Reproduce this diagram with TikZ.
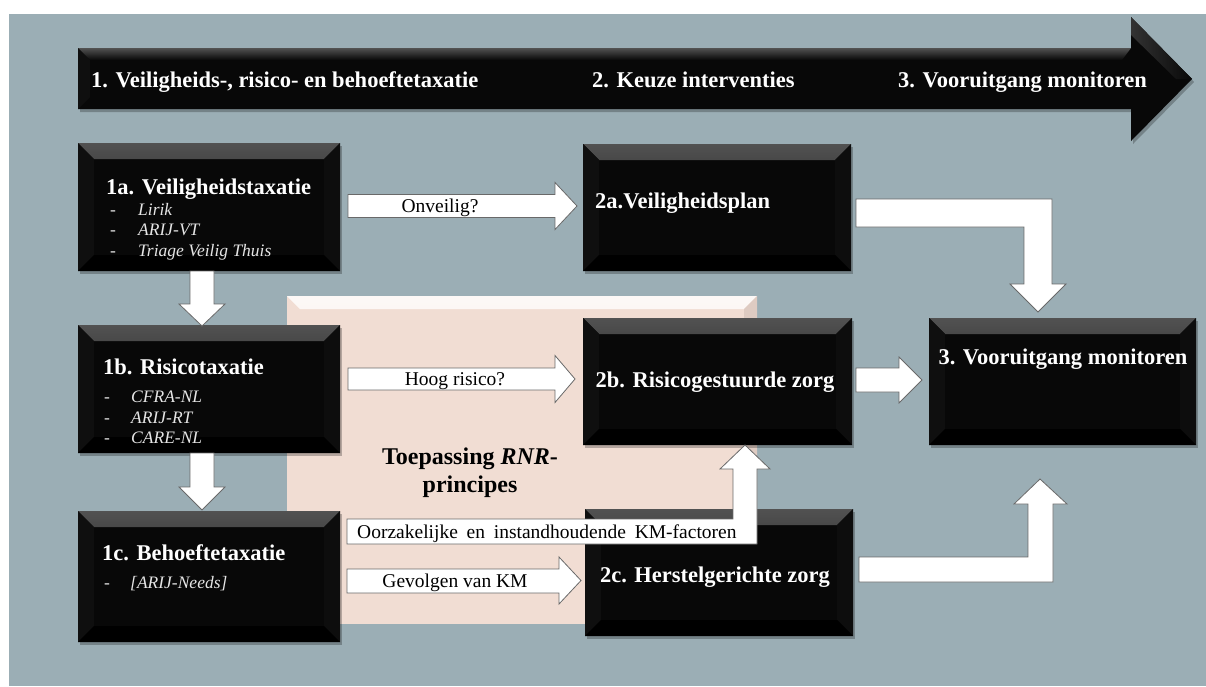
\documentclass[tikz,border=0pt]{standalone}
\usepackage{fontspec}
\setmainfont{Liberation Serif}
\usetikzlibrary{calc}
\definecolor{bg}{RGB}{155,174,181}
\definecolor{panelc}{RGB}{241,221,211}
\definecolor{edgec}{RGB}{105,105,105}
\tikzset{
  blackbox/.style={rectangle, inner sep=0pt, outer sep=0pt, fill=black!97,
    path picture={
      \fill[top color=black!68, bottom color=black!97]
        (path picture bounding box.north west) -- (path picture bounding box.north east)
        -- ([xshift=-16pt,yshift=-16pt]path picture bounding box.north east)
        -- ([xshift=16pt,yshift=-16pt]path picture bounding box.north west) -- cycle;
      \fill[black!94]
        (path picture bounding box.north west) -- ([xshift=16pt,yshift=-16pt]path picture bounding box.north west)
        -- ([xshift=16pt,yshift=16pt]path picture bounding box.south west) -- (path picture bounding box.south west) -- cycle;
      \fill[black!95]
        (path picture bounding box.north east) -- ([xshift=-16pt,yshift=-16pt]path picture bounding box.north east)
        -- ([xshift=-16pt,yshift=16pt]path picture bounding box.south east) -- (path picture bounding box.south east) -- cycle;
      \fill[black]
        (path picture bounding box.south west) -- ([xshift=16pt,yshift=16pt]path picture bounding box.south west)
        -- ([xshift=-16pt,yshift=16pt]path picture bounding box.south east) -- (path picture bounding box.south east) -- cycle;
    }},
  panelbox/.style={rectangle, inner sep=0pt, outer sep=0pt, fill=panelc,
    path picture={
      \fill[top color=white!80!panelc, bottom color=panelc]
        (path picture bounding box.north west) -- (path picture bounding box.north east)
        -- ([xshift=-13pt,yshift=-13pt]path picture bounding box.north east)
        -- ([xshift=13pt,yshift=-13pt]path picture bounding box.north west) -- cycle;
      \fill[panelc!92!black]
        (path picture bounding box.north east) -- ([xshift=-13pt,yshift=-13pt]path picture bounding box.north east)
        -- ([xshift=-13pt,yshift=13pt]path picture bounding box.south east) -- (path picture bounding box.south east) -- cycle;
    }},
  shadowbox/.style={fill=black, opacity=0.25},
  warrow/.style={fill=white, draw=edgec, line width=0.8pt, line join=miter},
  ttl/.style={text=white, font=\bfseries\fontsize{22.5}{27}\selectfont, inner sep=0pt},
  itm/.style={text=white!90!black, font=\itshape\fontsize{17.5}{20}\selectfont, inner sep=0pt, anchor=base west},
  dsh/.style={text=white!90!black, font=\fontsize{17.5}{20}\selectfont, inner sep=0pt, anchor=base west},
  alab/.style={text=black, font=\fontsize{19.5}{23}\selectfont, inner sep=0pt},
  rnr/.style={text=black, font=\bfseries\fontsize{24}{28}\selectfont, inner sep=0pt, anchor=base},
}
\begin{document}
\begin{tikzpicture}[x=1pt,y=-1pt]
\useasboundingbox (0,0) rectangle (1206,686);
\fill[white] (0,0) rectangle (1206,686);
\fill[bg] (9,14) rectangle (1206,686);

% big process arrow
\fill[black, opacity=0.25] (80,51) -- (1133,51) -- (1133,20) -- (1194,82) -- (1133,144) -- (1133,112) -- (80,112) -- cycle;
\fill[black!97] (78,48) -- (1131,48) -- (1131,17) -- (1192,79) -- (1131,141) -- (1131,109) -- (78,109) -- cycle;
\shade[top color=black!68, bottom color=black!97] (78,48) -- (1131,48) -- (1122,60) -- (90,60) -- cycle;
\fill[black!94] (78,48) -- (90,60) -- (90,97) -- (78,109) -- cycle;
\shade[left color=black!80, right color=black!97] (1131,17) -- (1192,79) -- (1176,79) -- (1131,35) -- cycle;
\node[ttl, anchor=base west] (p1) at (91,87) {1. Veiligheids-, risico- en behoeftetaxatie};
\node[ttl, anchor=base west] (p2) at (592,87) {2. Keuze interventies};
\node[ttl, anchor=base west] (p3) at (898,87) {3. Vooruitgang monitoren};

% RNR panel
\node[panelbox, minimum width=470pt, minimum height=328pt] (panel) at (522,460) {};
\node[rnr] (rnr1) at (470,464) {Toepassing \textit{RNR}-};
\node[rnr] (rnr2) at (470,492) {principes};

% shadows of boxes
\foreach \cx/\cy/\w/\h in {209/207/262/128, 209/389/262/128, 209/576.5/262/131,
   717/207.5/268/127, 717.5/381.5/269/127, 719/572.5/268/127, 1062.5/381.5/267/127}
  \fill[shadowbox] (\cx-\w/2+2,\cy-\h/2+3) rectangle (\cx+\w/2+2,\cy+\h/2+3);

% boxes
\node[blackbox, minimum width=262pt, minimum height=128pt] (b1a) at (209,207) {};
\node[blackbox, minimum width=262pt, minimum height=128pt] (b1b) at (209,389) {};
\node[blackbox, minimum width=262pt, minimum height=131pt] (b1c) at (209,576.5) {};
\node[blackbox, minimum width=268pt, minimum height=127pt] (b2a) at (717,207.5) {};
\node[blackbox, minimum width=269pt, minimum height=127pt] (b2b) at (717.5,381.5) {};
\node[blackbox, minimum width=268pt, minimum height=127pt] (b2c) at (719,572.5) {};
\node[blackbox, minimum width=267pt, minimum height=127pt] (b3) at (1062.5,381.5) {};

% box texts
\node[ttl, anchor=base west] (t1a) at (106,194.5) {1a. Veiligheidstaxatie};
\node[dsh] (d1a1) at (110,215) {-};
\node[itm] (i1a1) at (138,215) {Lirik};
\node[dsh] (d1a2) at (110,235) {-};
\node[itm] (i1a2) at (138,235) {ARIJ-VT};
\node[dsh] (d1a3) at (110,256) {-};
\node[itm] (i1a3) at (138,256) {Triage Veilig Thuis};

\node[ttl, anchor=base west] (t1b) at (103,374.5) {1b. Risicotaxatie};
\node[dsh] (d1b1) at (104,402) {-};
\node[itm] (i1b1) at (131,402) {CFRA-NL};
\node[dsh] (d1b2) at (104,423) {-};
\node[itm] (i1b2) at (131,423) {ARIJ-RT};
\node[dsh] (d1b3) at (104,443) {-};
\node[itm] (i1b3) at (131,443) {CARE-NL};

\node[ttl, anchor=base west] (t1c) at (102,560.5) {1c. Behoeftetaxatie};
\node[dsh] (d1c1) at (104,588) {-};
\node[itm] (i1c1) at (130,588) {[ARIJ-Needs]};

\node[ttl, anchor=base west] (t2a) at (595,208) {2a.Veiligheidsplan};
\node[ttl, anchor=base] (t2b) at (715,387.5) {2b. Risicogestuurde zorg};
\node[ttl, anchor=base] (t2c) at (715,582.5) {2c. Herstelgerichte zorg};
\node[ttl, anchor=base] (t3) at (1063,364.5) {3. Vooruitgang monitoren};

% white block arrows
% 1a -> 1b
\draw[warrow] (190,271) -- (214,271) -- (214,304) -- (225,304) -- (202,326) -- (179,304) -- (190,304) -- cycle;
% 1b -> 1c
\draw[warrow] (190,453) -- (214,453) -- (214,487) -- (225,487) -- (202,510) -- (179,487) -- (190,487) -- cycle;
% 1a -> 2a
\draw[warrow] (348,194.5) -- (555,194.5) -- (555,182.5) -- (577,206) -- (555,229.5) -- (555,217.5) -- (348,217.5) -- cycle;
\node[alab, anchor=base] (l1) at (440,212.5) {Onveilig?};
% 1b -> 2b
\draw[warrow] (348,368) -- (555,368) -- (555,355.5) -- (575,379) -- (555,402.5) -- (555,390) -- (348,390) -- cycle;
\node[alab, anchor=base] (l2) at (455,385.5) {Hoog risico?};
% 1c -> 2c
\draw[warrow] (347,569) -- (559,569) -- (559,557) -- (581,580.5) -- (559,604) -- (559,593) -- (347,593) -- cycle;
\node[alab, anchor=base] (l3) at (455,587.5) {Gevolgen van KM};
% 1c -> 2b (bent)
\draw[warrow] (347,519) -- (733,519) -- (733,469) -- (720,469) -- (745,445) -- (770,469) -- (757,469) -- (757,544) -- (347,544) -- cycle;
\node[alab, anchor=base west] (l4) at (357,538) {Oorzakelijke\hspace{0.45em}en\hspace{0.45em}instandhoudende\hspace{0.45em}KM-factoren};
% 2a -> 3 (bent)
\draw[warrow] (856,199) -- (1052,199) -- (1052,284) -- (1066,284) -- (1038,312) -- (1010,284) -- (1024,284) -- (1024,227) -- (856,227) -- cycle;
% 2b -> 3
\draw[warrow] (856,368) -- (899,368) -- (899,357) -- (922,380) -- (899,403) -- (899,392) -- (856,392) -- cycle;
% 2c -> 3 (bent)
\draw[warrow] (859,582) -- (1053,582) -- (1053,504) -- (1067,504) -- (1040,479) -- (1014,504) -- (1028,504) -- (1028,557) -- (859,557) -- cycle;
\end{tikzpicture}
\end{document}
